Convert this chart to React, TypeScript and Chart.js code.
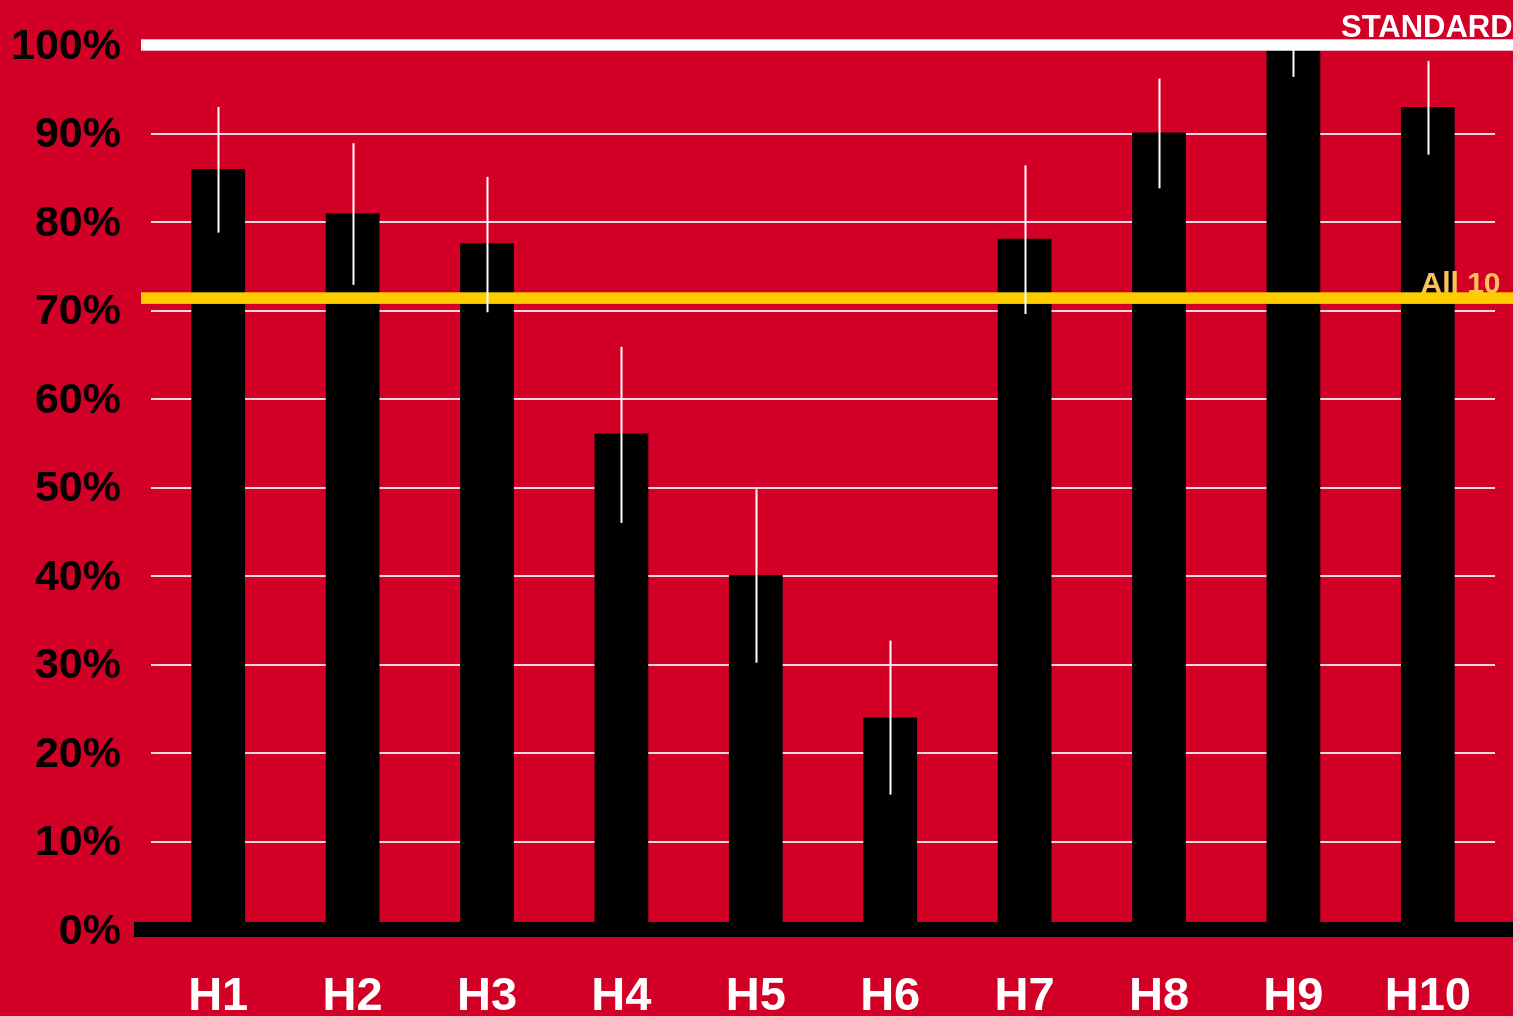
import { useEffect, useRef } from 'react';
import { Chart, registerables } from 'chart.js';

Chart.register(...registerables);

const categories = ['H1', 'H2', 'H3', 'H4', 'H5', 'H6', 'H7', 'H8', 'H9', 'H10'];
const values = [86.0, 81.0, 77.6, 56.1, 40.1, 24.0, 78.1, 90.1, 99.4, 93.0];
const errorLow = [78.8, 72.9, 69.8, 46.0, 30.2, 15.3, 69.6, 83.8, 96.4, 87.6];
const errorHigh = [93.0, 88.9, 85.1, 65.9, 49.8, 32.7, 86.4, 96.2, 102.4, 98.2];
const yTickValues = [0, 10, 20, 30, 40, 50, 60, 70, 80, 90, 100];
const standardValue = 100;
const standardLabel = 'STANDARD';
const allValue = 71.4;
const allLabel = 'All 10';

const BG = '#D20026';
const FONT = "'Liberation Sans', Arial, Helvetica, sans-serif";

const overlayPlugin = {
  id: 'overlay',
  afterDatasetsDraw(chart: any) {
    const { ctx, chartArea, scales } = chart;
    const y = scales.y;
    const W = chart.width;
    const left = chartArea.left;

    ctx.save();
    // "All 10" label
    const yAll = y.getPixelForValue(allValue);
    ctx.font = `bold 30px ${FONT}`;
    ctx.fillStyle = '#F9C25C';
    ctx.textAlign = 'left';
    ctx.textBaseline = 'alphabetic';
    ctx.fillText(allLabel, 1420.5, yAll - 5);

    // yellow average line
    ctx.fillStyle = '#FFCC00';
    ctx.fillRect(left - 10, yAll - 5.8, W - (left - 10), 11.6);

    // white standard line
    const yStd = y.getPixelForValue(standardValue);
    ctx.fillStyle = '#FFFFFF';
    ctx.fillRect(left - 10, yStd - 5.7, W - (left - 10), 11.4);

    // STANDARD label
    ctx.font = `bold 31px ${FONT}`;
    ctx.fillStyle = '#FFFFFF';
    ctx.fillText(standardLabel, 1341, yStd - 8.5);

    // black baseline
    const y0 = y.getPixelForValue(0);
    ctx.fillStyle = '#000000';
    ctx.fillRect(left - 17, y0 - 8, W - (left - 17), 15);

    // error bars
    ctx.beginPath();
    ctx.rect(chartArea.left, chartArea.top, chartArea.right - chartArea.left, chartArea.bottom - chartArea.top);
    ctx.clip();
    const meta = chart.getDatasetMeta(0);
    ctx.strokeStyle = '#FFFFFF';
    ctx.lineWidth = 2;
    errorLow.forEach((lo, i) => {
      const px = Math.round(meta.data[i].x) + 0.5;
      ctx.beginPath();
      ctx.moveTo(px, y.getPixelForValue(lo));
      ctx.lineTo(px, y.getPixelForValue(errorHigh[i]));
      ctx.stroke();
    });
    ctx.restore();
  },
};

export default function App() {
  const canvasRef = useRef<HTMLCanvasElement | null>(null);

  useEffect(() => {
    document.body.style.margin = '0';
    document.body.style.background = BG;
    const canvas = canvasRef.current;
    if (!canvas) return;
    const chart = new Chart(canvas, {
      type: 'bar',
      data: {
        labels: categories,
        datasets: [
          {
            data: values,
            backgroundColor: '#000000',
            borderWidth: 0,
            barPercentage: 0.5,
            categoryPercentage: 0.8,
          },
        ],
      },
      options: {
        animation: false,
        responsive: true,
        maintainAspectRatio: false,
        layout: { padding: { top: 45, right: 18, bottom: 0, left: 0 } },
        plugins: {
          legend: { display: false },
          tooltip: { enabled: false },
          title: { display: false },
        },
        scales: {
          x: {
            grid: { display: false, drawTicks: false },
            border: { display: false },
            ticks: {
              color: '#FFFFFF',
              font: { family: FONT, size: 47, weight: 'bold' },
              padding: 39,
              maxRotation: 0,
              autoSkip: false,
            },
            afterFit: (scale: any) => {
              scale.height = 86;
              scale.paddingLeft = 0;
              scale.paddingRight = 0;
            },
          },
          y: {
            min: 0,
            max: 100,
            afterBuildTicks: (scale: any) => {
              scale.ticks = yTickValues.map((v) => ({ value: v }));
            },
            grid: {
              color: 'rgba(255,255,255,0.85)',
              lineWidth: 2,
              drawTicks: false,
            },
            border: { display: false },
            ticks: {
              color: '#000000',
              font: { family: FONT, size: 43, weight: 'bold' },
              padding: 30,
              labelOffset: 2,
              callback: (v: any) => `${v}%`,
            },
            afterFit: (scale: any) => {
              scale.width = 151;
              scale.paddingTop = 0;
              scale.paddingBottom = 0;
            },
          },
        },
      },
      plugins: [overlayPlugin],
    });
    return () => chart.destroy();
  }, []);

  return (
    <div style={{ position: 'fixed', left: 0, top: 0, width: '100vw', height: '100vh', background: BG }}>
      <canvas ref={canvasRef} />
    </div>
  );
}
